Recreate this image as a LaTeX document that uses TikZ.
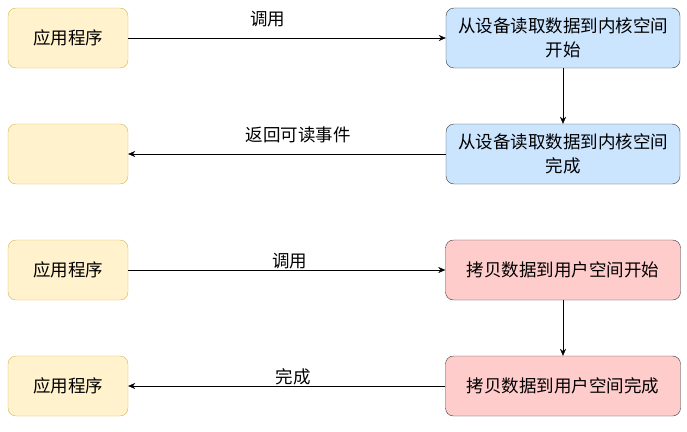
\documentclass[tikz,border=0pt]{standalone}
\usepackage{fontspec}
\setmainfont{Noto Sans CJK SC}
\usepackage{xcolor}
\usetikzlibrary{arrows.meta,positioning}

\definecolor{appfill}{HTML}{FFF2CC}
\definecolor{appline}{HTML}{D6B656}
\definecolor{kernfill}{HTML}{CCE5FF}
\definecolor{userfill}{HTML}{FFCCCC}
\definecolor{boxline}{HTML}{36393D}

\begin{document}
\begin{tikzpicture}[x=1pt, y=1pt, node distance=116pt, >={Stealth[length=7pt,width=6pt]}, every node/.style={font=\fontsize{17.5}{24}\selectfont}]
  % Style definitions
  \tikzstyle{app} = [rectangle, draw=appline, fill=appfill, minimum width=120pt, minimum height=60pt, rounded corners=8pt]
  \tikzstyle{kern} = [rectangle, draw=boxline, fill=kernfill, minimum width=234pt, minimum height=60pt, rounded corners=8pt, align=center, inner sep=1pt]
  \tikzstyle{user} = [rectangle, draw=boxline, fill=userfill, minimum width=235pt, minimum height=60pt, rounded corners=8pt, align=center]

  \useasboundingbox (0,0) rectangle (687,-431);

  % Application side
  \node (app1) [app] at (68,-38) {应用程序};
  \node (app2) [app, below of=app1] {};
  \node (app3) [app, below of=app2] {应用程序};
  \node (app4) [app, below of=app3] {应用程序};

  % Kernel side
  \node (kern1) [kern] at (563,-38) {从设备读取数据到内核空间\\开始};
  \node (kern2) [kern, below of=kern1] {从设备读取数据到内核空间\\完成};
  \node (user1) [user, below of=kern2] {拷贝数据到用户空间开始};
  \node (user2) [user, below of=user1] {拷贝数据到用户空间完成};

  % Arrows
  \draw[->] (app1) -- node[above, yshift=7pt, pos=0.44] {调用} (kern1);
  \draw[->] (kern1) -- (kern2);
  \draw[->] (kern2) -- node[above, yshift=7pt, pos=0.465] {返回可读事件} (app2);
  \draw[->] (app3) -- node[above, inner sep=1pt, pos=0.51] {调用} (user1);
  \draw[->] (user1) -- (user2);
  \draw[->] (user2) -- node[above, inner sep=1pt, pos=0.48] {完成} (app4);
\end{tikzpicture}
\end{document}
